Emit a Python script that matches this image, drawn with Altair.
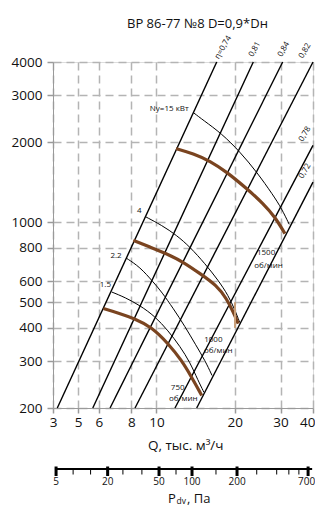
import altair as alt
import pandas as pd

FONT = "Open Sans"

# ---------------- data ----------------
q_ticks = [4, 5, 6, 8, 10, 20, 30, 40]          # first tick is labelled "3" in the original
p_ticks = [200, 300, 400, 500, 600, 800, 1000, 2000, 3000, 4000]

# efficiency (system) lines: start / end points (Q, тыс. м3/ч ; P, Па)
eta_names = ["e1", "e2", "e3", "e4", "e5", "e6"]
eta_q0 = [4.155, 5.69, 6.63, 8.27, 11.78, 14.28]
eta_p0 = [200, 200, 200, 200, 200, 200]
eta_q1 = [17.05, 23.57, 30.58, 40.0, 40.0, 40.0]
eta_p1 = [4000, 4000, 4000, 4000, 1944, 1414]
eta_text = ["η=0,74", "0,81", "0,84", "0,82", "0,78", "0,72"]
eta_text_q = [17.1, 23.1, 29.86, 36.0, 36.0, 36.0]
eta_text_p = [4124, 4206, 4206, 4150, 2019, 1466]

# fan curves (brown) at 1500 / 1000 / 750 об/мин
rpm_names = ["1500", "1000", "750"]
rpm_q = [
    [11.9, 13.86, 16.07, 18.62, 22.24, 25.76, 28.57, 31.2],
    [8.15, 9.44, 10.95, 12.68, 14.71, 17.05, 18.62, 19.75, 20.64],
    [6.25, 7.13, 8.27, 9.59, 11.11, 12.5, 13.66, 14.93],
]
rpm_p = [
    [1890, 1810, 1698, 1544, 1337, 1174, 1045, 905],
    [854, 806, 761, 708, 640, 578, 515, 459, 415],
    [473, 455, 433, 403, 349, 302, 261, 223],
]

# power curves (thin) 15 / 4 / 2.2 / 1.5 кВт
pow_names = ["15", "4", "2.2", "1.5"]
pow_q = [
    [13.86, 15.14, 17.82, 20.96, 24.3, 28.14, 30.3, 32.4],
    [9.12, 10.48, 11.96, 13.46, 15.37, 17.29, 18.89, 20.05, 20.9],
    [7.64, 8.64, 9.72, 10.48, 11.61, 12.88, 14.19, 15.37, 16.36],
    [6.73, 7.57, 8.64, 9.87, 11.08, 12.32, 13.46, 14.45, 15.23],
]
pow_p = [
    [2582, 2416, 2152, 1836, 1544, 1261, 1124, 981],
    [1045, 973, 892, 806, 698, 604, 530, 466, 420],
    [733, 678, 595, 546, 473, 405, 344, 302, 265],
    [546, 521, 486, 442, 391, 341, 297, 254, 229],
]

# small brown stroke near Q=20
stub_q = [20.05, 20.05]
stub_p = [400, 500]

# curve labels
lab_text = ["Nу=15 кВт", "4", "2.2", "1.5", "1500", "об/мин", "1000", "об/мин", "750", "об/мин"]
lab_q = [11.2, 8.59, 6.99, 6.36, 26.4, 26.98, 16.55, 17.29, 12.07, 12.68]
lab_p = [2674, 1098, 745, 581, 763, 685, 361, 327, 238, 217]

# dynamic pressure scale (positions given as equivalent Q on the main axis)
pdv_major = [5, 20, 50, 100, 200, 700]
pdv_major_q = [4.11, 6.49, 10.23, 13.70, 20.41, 38.3]
pdv_minor_q = [4.78, 5.58, 7.43, 8.79, 11.89, 16.94, 24.3, 29.0, 32.3, 35.3]
pdv_line_q = [4.07, 39.7]

title_text = ["ВР 86-77 №8 D=0,9*Dн"]
q_title = ["Q, тыс. м³/ч"]
pdv_title = ["P", "dv", ", Па"]

# ---------------- tables ----------------
eta_df = pd.DataFrame(
    [{"name": n, "i": 0, "q": a, "p": b} for n, a, b in zip(eta_names, eta_q0, eta_p0)]
    + [{"name": n, "i": 1, "q": a, "p": b} for n, a, b in zip(eta_names, eta_q1, eta_p1)]
)
eta_lab_df = pd.DataFrame({"t": eta_text, "q": eta_text_q, "p": eta_text_p})
rpm_df = pd.DataFrame(
    [{"name": n, "i": i, "q": q, "p": p}
     for n, qs, ps in zip(rpm_names, rpm_q, rpm_p)
     for i, (q, p) in enumerate(zip(qs, ps))]
)
pow_df = pd.DataFrame(
    [{"name": n, "i": i, "q": q, "p": p}
     for n, qs, ps in zip(pow_names, pow_q, pow_p)
     for i, (q, p) in enumerate(zip(qs, ps))]
)
stub_df = pd.DataFrame({"q": stub_q, "p": stub_p, "i": [0, 1]})
lab_df = pd.DataFrame({"t": lab_text, "q": lab_q, "p": lab_p})
pdv_major_df = pd.DataFrame({"v": [str(v) for v in pdv_major], "q": pdv_major_q})
pdv_minor_df = pd.DataFrame({"q": pdv_minor_q})
pdv_line_df = pd.DataFrame({"q0": [pdv_line_q[0]], "q1": [pdv_line_q[1]]})

xs = alt.Scale(type="log", domain=[4, 40])
ys = alt.Scale(type="log", domain=[200, 4000])

x_axis = alt.Axis(
    values=q_ticks, format="d", labelExpr="datum.value == 4 ? '3' : datum.label",
    title=None, grid=True, gridDash=[8, 5], gridColor="#b4b4b4", gridWidth=1.5,
    domainColor="#9a9a9a", tickColor="#9a9a9a", tickSize=5, tickWidth=1.5,
    labelFont=FONT, labelFontSize=13.5, labelColor="#111", labelPadding=2,
    labelFlush=False, labelOverlap=False,
    labelAlign={"condition": {"test": "datum.value >= 40", "value": "right"}, "value": "center"},
    labelOffset={"condition": {"test": "datum.value >= 40", "value": 2}, "value": 0},
)
y_axis = alt.Axis(
    values=p_ticks, format="d", title=None, grid=True, gridDash=[8, 5],
    gridColor="#b4b4b4", gridWidth=1.5, domainColor="#9a9a9a", tickColor="#9a9a9a",
    tickSize=6, tickWidth=1.5, labelFont=FONT, labelFontSize=13.5, labelColor="#111",
    labelPadding=5, labelFlush=False, labelOverlap=False,
)


def X(field="q"):
    return alt.X(f"{field}:Q", scale=xs, axis=x_axis)


def Y(field="p"):
    return alt.Y(f"{field}:Q", scale=ys, axis=y_axis)


eta_layer = alt.Chart(eta_df).mark_line(color="black", strokeWidth=1.4).encode(
    x=X(), y=Y(), detail="name:N", order="i:Q"
)
pow_layer = alt.Chart(pow_df).mark_line(color="black", strokeWidth=1, interpolate="basis").encode(
    x=X(), y=Y(), detail="name:N", order="i:Q"
)
rpm_layer = alt.Chart(rpm_df).mark_line(color="#7a4420", strokeWidth=3.2, interpolate="basis").encode(
    x=X(), y=Y(), detail="name:N", order="i:Q"
)
stub_layer = alt.Chart(stub_df).mark_line(color="#c9a07a", strokeWidth=2).encode(
    x=X(), y=Y(), order="i:Q"
)
eta_lab_layer = alt.Chart(eta_lab_df).mark_text(
    font=FONT, fontSize=8, angle=300, align="left", baseline="middle", color="#111"
).encode(x=X(), y=Y(), text="t:N")
lab_layer = alt.Chart(lab_df).mark_text(
    font=FONT, fontSize=8, align="center", baseline="middle", color="#111"
).encode(x=X(), y=Y(), text="t:N")

# Pdv scale under the chart
pdv_line = alt.Chart(pdv_line_df).mark_rule(color="black", strokeWidth=2).encode(
    x=X("q0"), x2="q1:Q", y=alt.value(407)
)
pdv_major_ticks = alt.Chart(pdv_major_df).mark_rule(color="black", strokeWidth=3).encode(
    x=X(), y=alt.value(404.5), y2=alt.value(414)
)
pdv_minor_ticks = alt.Chart(pdv_minor_df).mark_rule(color="black", strokeWidth=1).encode(
    x=X(), y=alt.value(407), y2=alt.value(412.5)
)
pdv_labels = alt.Chart(pdv_major_df.iloc[:-1]).mark_text(
    font=FONT, fontSize=10, align="center", baseline="middle", color="#111"
).encode(x=X(), y=alt.value(419.5), text="v:N")
pdv_last_label = alt.Chart(pdv_major_df.iloc[-1:]).mark_text(
    font=FONT, fontSize=10, align="right", baseline="middle", color="#111", dx=7
).encode(x=X(), y=alt.value(419.5), text="v:N")

title_layer = alt.Chart(pd.DataFrame({"t": title_text})).mark_text(
    font=FONT, fontSize=13, align="left", baseline="alphabetic", color="#111"
).encode(x=alt.value(74), y=alt.value(-34), text="t:N")
qtitle_layer = alt.Chart(pd.DataFrame({"t": q_title})).mark_text(
    font=FONT, fontSize=13.5, align="left", baseline="alphabetic", color="#111"
).encode(x=alt.value(95), y=alt.value(388), text="t:N")
pdv_t1 = alt.Chart(pd.DataFrame({"t": [pdv_title[0]]})).mark_text(
    font=FONT, fontSize=13, align="left", baseline="alphabetic", color="#111"
).encode(x=alt.value(115), y=alt.value(440.5), text="t:N")
pdv_t2 = alt.Chart(pd.DataFrame({"t": [pdv_title[1]]})).mark_text(
    font=FONT, fontSize=8.5, align="left", baseline="alphabetic", color="#111"
).encode(x=alt.value(123.5), y=alt.value(441.5), text="t:N")
pdv_t3 = alt.Chart(pd.DataFrame({"t": [pdv_title[2]]})).mark_text(
    font=FONT, fontSize=13, align="left", baseline="alphabetic", color="#111"
).encode(x=alt.value(134), y=alt.value(440.5), text="t:N")

chart = alt.layer(
    eta_layer, pow_layer, rpm_layer, stub_layer, eta_lab_layer, lab_layer,
    pdv_line, pdv_major_ticks, pdv_minor_ticks, pdv_labels, pdv_last_label,
    title_layer, qtitle_layer, pdv_t1, pdv_t2, pdv_t3,
).properties(
    width=260, height=346,
    autosize=alt.AutoSizeParams(type="none"),
    padding={"left": 45, "top": 54, "right": 2, "bottom": 98},
).configure_view(strokeWidth=0).configure(background="white")

chart.save("out.html", embed_options={"renderer": "svg", "actions": False})
